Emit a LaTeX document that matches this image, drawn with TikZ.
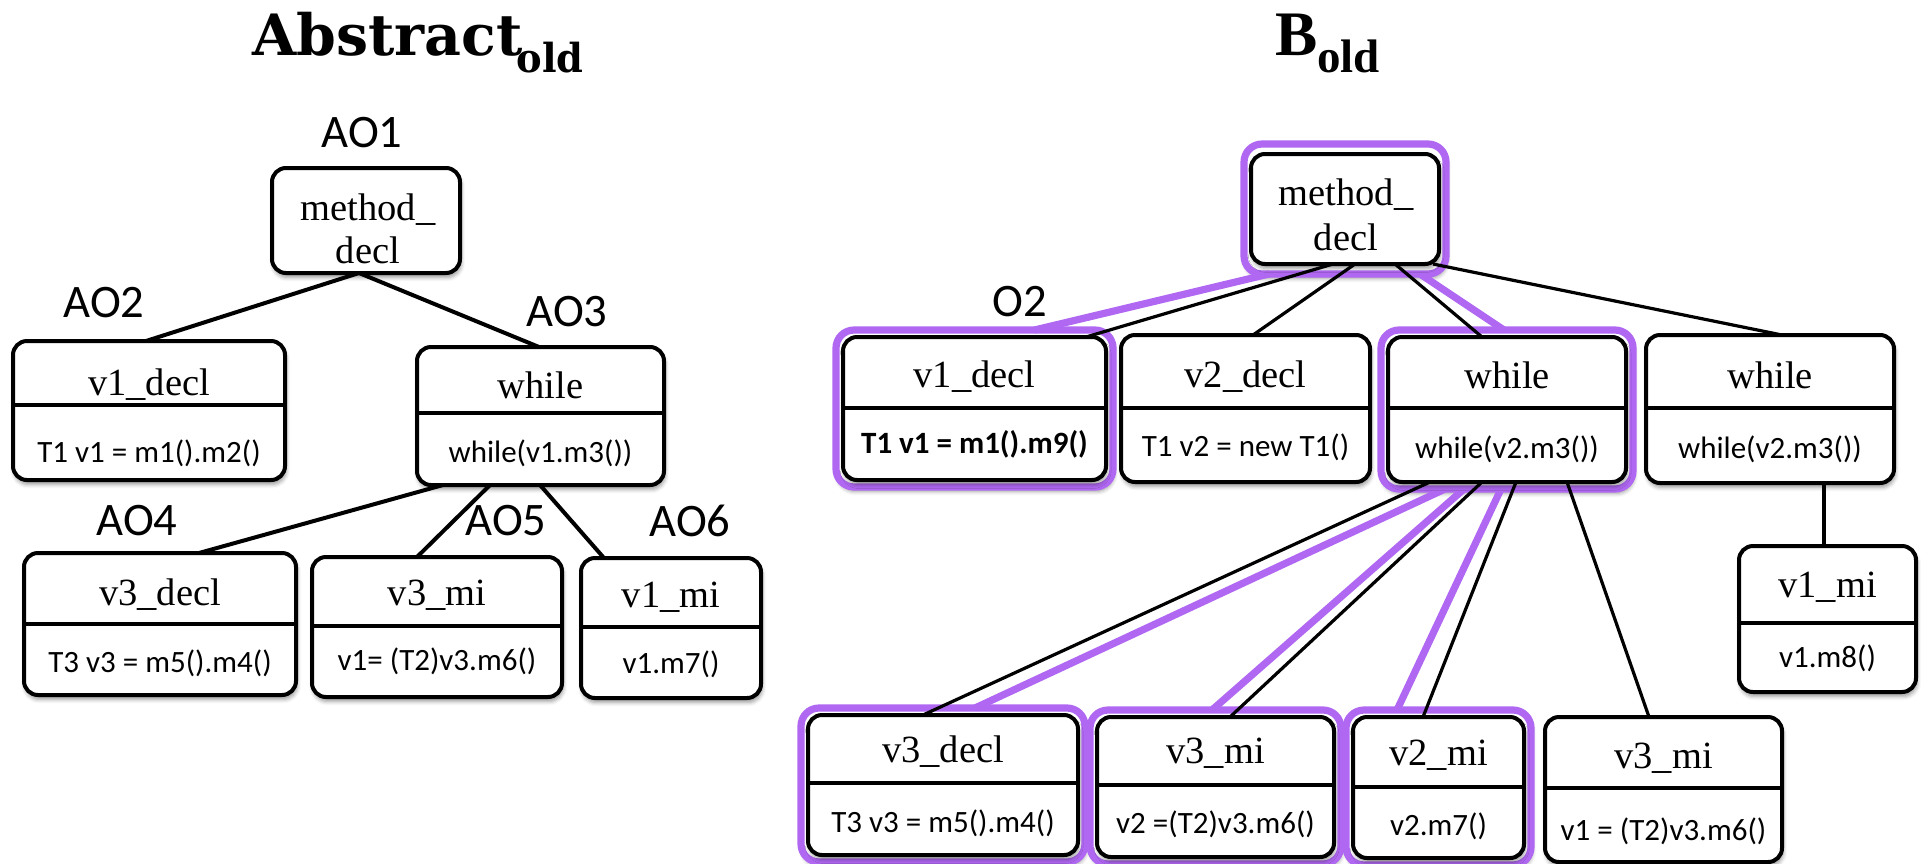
\documentclass[tikz,border=0pt]{standalone}
\usepackage{fontspec}
\setmainfont{Liberation Serif}
\newfontfamily\calfont{Carlito}
\newfontfamily\slabfont{DejaVu Serif}
\usetikzlibrary{calc,fit,backgrounds,shadows.blur}
\definecolor{hlpurple}{RGB}{176,104,242}

\tikzset{
  softshadow/.style={blur shadow={shadow xshift=0.6pt, shadow yshift=-2.2pt,
      shadow blur radius=2pt, shadow opacity=40}},
  treebox/.style={draw=black, line width=2pt, rounded corners=7pt, fill=white,
      inner sep=0pt, outer sep=0pt, softshadow},
  divider/.style={line width=2pt},
  headtext/.style={font=\fontsize{19.25pt}{23pt}\selectfont, inner sep=0pt},
  codetext/.style={font=\calfont\fontsize{15.5pt}{18pt}\selectfont, inner sep=0pt},
  taglabel/.style={font=\calfont\fontsize{23.3pt}{28pt}\selectfont, inner sep=0pt},
  edge/.style={line width=2pt},
  thinedge/.style={line width=1.6pt},
  hledge/.style={draw=hlpurple, line width=3.6pt},
  hlframe/.style={draw=hlpurple, line width=3.6pt, rounded corners=9pt, fill=white,
      inner sep=3.5pt, outer sep=0pt, softshadow},
  titleA/.style={font=\slabfont\bfseries\fontsize{28.5pt}{32pt}\selectfont, inner sep=0pt},
  titleAsub/.style={font=\slabfont\bfseries\fontsize{20pt}{24pt}\selectfont, inner sep=0pt},
  titleB/.style={font=\bfseries\fontsize{31.7pt}{36pt}\selectfont, inner sep=0pt},
  titleBsub/.style={font=\bfseries\fontsize{23.5pt}{27pt}\selectfont, inner sep=0pt},
}

% name, centre, width, height, divider y, heading, heading baseline, code, code baseline
\newcommand\treebox[9]{%
  \node[treebox, minimum width=#3*0.5pt, minimum height=#4*0.5pt] (#1) at (#2) {};
  \draw[divider] (#1.west |- 0,#5) -- (#1.east |- 0,#5);
  \node[headtext, anchor=base] (#1-t) at (#1 |- 0,#7) {#6};
  \node[codetext, anchor=base] (#1-c) at (#1 |- 0,#9) {#8};
}

\begin{document}
\begin{tikzpicture}[x=0.5pt, y=-0.5pt]
\useasboundingbox (0,0) rectangle (1921,863);

% ---------- titles ----------
\node[titleA, anchor=base west] (tA) at (252,55) {Abstract};
\node[titleAsub, anchor=base west] (tAo) at (516,72) {\scalebox{0.96}[1]{old}};
\node[titleB, anchor=base west] (tB) at (1275,55) {B};
\node[titleBsub, anchor=base west] (tBo) at (1317,72) {old};

% ---------- left tree ----------
\node[treebox, minimum width=188*0.5pt, minimum height=105*0.5pt] (L1) at (366,220.5) {};
\node[headtext, anchor=base] (L1-t) at (368,220) {method\_};
\node[headtext, anchor=base] (L1-u) at (368,263) {decl};
\treebox{L2}{149,410.5}{272}{139}{405}{v1\_decl}{395}{T1 v1 = m1().m2()}{462}
\treebox{L3}{540.5,416}{247}{138}{413}{while}{398}{while(v1.m3())}{462}
\treebox{L4}{160,624}{272}{142}{624}{v3\_decl}{605}{T3 v3 = m5().m4()}{672}
\treebox{L5}{437,627}{250}{140}{626}{v3\_mi}{605}{v1= (T2)v3.m6()}{670}
\treebox{L6}{671,628}{180}{140}{627}{v1\_mi}{607}{v1.m7()}{673}

\node[taglabel] (AO1) at (362,133) {AO1};
\node[taglabel] (AO2) at (104,303) {AO2};
\node[taglabel] (AO3) at (567,312) {AO3};
\node[taglabel] (AO4) at (137,521) {AO4};
\node[taglabel] (AO5) at (506,521) {AO5};
\node[taglabel] (AO6) at (690,521) {AO6};

% ---------- right tree ----------
\node[treebox, minimum width=188*0.5pt, minimum height=110*0.5pt] (R1) at (1345,209) {};
\node[headtext, anchor=base] (R1-t) at (1346,205) {method\_};
\node[headtext, anchor=base] (R1-u) at (1346,250) {decl};
\treebox{R2}{974.5,408.5}{263}{143}{408}{v1\_decl}{387}{\bfseries T1 v1 = m1().m9()}{453}
\treebox{R3}{1245.5,408.5}{249}{147}{408}{v2\_decl}{387}{T1 v2 = new T1()}{456}
\treebox{R4}{1507,409.5}{238}{145}{408}{while}{388}{while(v2.m3())}{458}
\treebox{R5}{1770,409}{248}{148}{408}{while}{388}{while(v2.m3())}{458}
\treebox{R6}{1827.5,619}{177}{146}{623}{v1\_mi}{597}{v1.m8()}{667}
\treebox{B1}{943,785}{270}{140}{783}{v3\_decl}{762}{T3 v3 = m5().m4()}{832}
\treebox{B2}{1215.5,787}{237}{140}{785}{v3\_mi}{763}{v2 =(T2)v3.m6()}{833}
\treebox{B3}{1438.5,787.5}{171}{141}{787}{v2\_mi}{765}{v2.m7()}{835}
\treebox{B4}{1663.5,789.5}{237}{145}{788}{v3\_mi}{768}{v1 = (T2)v3.m6()}{840}

\node[taglabel] (O2) at (1020,302) {O2};

% ---------- highlight frames and connectors (behind the boxes) ----------
\begin{scope}[on background layer]
  \node[hlframe, fit=(R1), inner ysep=5pt] (R1h) {};
  \node[hlframe, fit=(R2)] (R2h) {};
  \node[hlframe, fit=(R4)] (R4h) {};
  \node[hlframe, fit=(B1)] (B1h) {};
  \node[hlframe, fit=(B2)] (B2h) {};
  \node[hlframe, fit=(B3)] (B3h) {};

  % left tree
  \draw[edge] ($(L1.south)+(-7,0)$) -- ($(L2.north)+(-3,0)$);
  \draw[edge] ($(L1.south)+(-7,0)$) -- ($(L3.north)+(-1.5,0)$);
  \draw[edge] ($(L3.south)+(-97.5,0)$) -- ($(L4.north)+(39,0)$);
  \draw[edge] ($(L3.south)+(-50.5,0)$) -- ($(L5.north)+(-20,0)$);
  \draw[edge] ($(L3.south)+(-0.5,0)$) -- ($(L6.north)+(-67,0)$);

  % right tree, highlighted path
  \draw[hledge] ($(R1h.south)+(-76,0)$) -- ($(R2h.north)+(60,0)$);
  \draw[hledge] ($(R1h.south)+(75,0)$) -- ($(R4h.north)+(-3,0)$);
  \draw[hledge] ($(R4h.south)+(-62,0)$) -- ($(B1h.north)+(32,0)$);
  \draw[hledge] ($(R4h.south)+(-43,0)$) -- ($(B2h.north)+(-3.5,0)$);
  \draw[hledge] ($(R4h.south)+(-6,0)$) -- ($(B3h.north)+(-41.5,0)$);

  % right tree
  \draw[thinedge] ($(R1.south)+(-12,0)$) -- ($(R2.north)+(111.5,0)$);
  \draw[thinedge] ($(R1.south)+(10,0)$) -- ($(R3.north)+(7.5,0)$);
  \draw[thinedge] ($(R1.south)+(50,0)$) -- ($(R4.north)+(-25,0)$);
  \draw[thinedge] ($(R1.south)+(88,0)$) -- ($(R5.north)+(12,0)$);
  \draw[thinedge] ($(R5.south)+(54,0)$) -- ($(R6.north)+(-3.5,0)$);
  \draw[thinedge] ($(R4.south)+(-77,0)$) -- ($(B1.north)+(-20,0)$);
  \draw[thinedge] ($(R4.south)+(-25,0)$) -- ($(B2.north)+(14.5,0)$);
  \draw[thinedge] ($(R4.south)+(9,0)$) -- ($(B3.north)+(-15.5,0)$);
  \draw[thinedge] ($(R4.south)+(60,0)$) -- ($(B4.north)+(-14.5,0)$);
\end{scope}
\end{tikzpicture}
\end{document}
